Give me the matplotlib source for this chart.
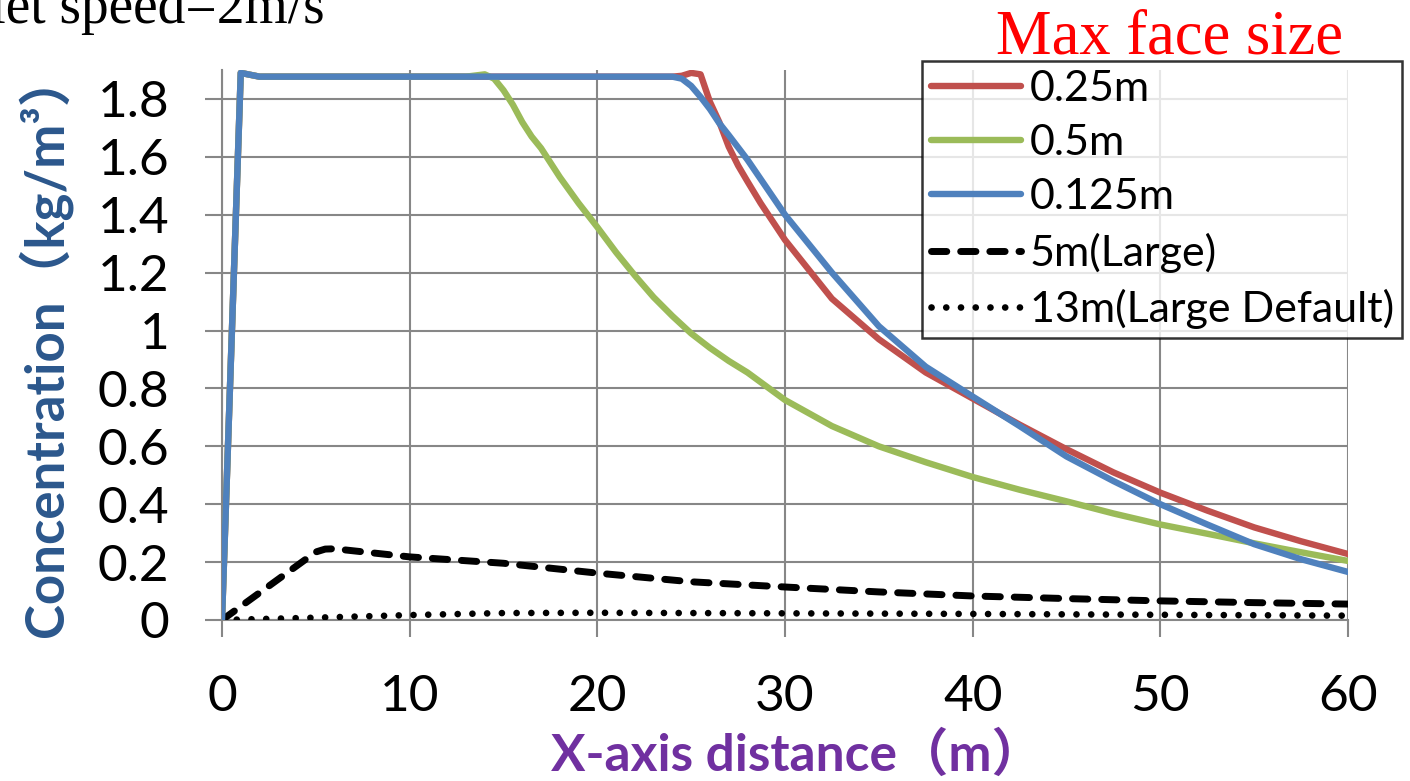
import matplotlib
matplotlib.use("Agg")
import matplotlib.pyplot as plt
import numpy as np

# 0.25m
x_red = [0, 1, 2, 10, 20, 24, 24.5, 25, 25.5, 26, 26.5, 27, 27.5, 28, 28.7, 30, 32.5, 35, 37.5,
         40, 42.5, 45, 47.5, 50, 52.5, 55, 57.5, 60]
y_red = [0, 1.89, 1.877, 1.877, 1.877, 1.877, 1.88, 1.89, 1.885, 1.79, 1.72, 1.635, 1.57, 1.515,
         1.44, 1.313, 1.11, 0.97, 0.855, 0.765, 0.675, 0.59, 0.51, 0.44, 0.378, 0.32, 0.272, 0.228]

# 0.5m
x_green = [0, 1, 2, 10, 13, 14, 14.5, 15, 15.5, 16, 16.5, 17, 18, 19, 20, 21, 22, 23, 24, 25, 26, 27,
           28, 30, 32.5, 35, 37.5, 40, 42.5, 45, 47.5, 50, 52.5, 55, 57.5, 60]
y_green = [0, 1.89, 1.877, 1.877, 1.877, 1.885, 1.87, 1.83, 1.78, 1.72, 1.67, 1.63, 1.53, 1.44, 1.357,
           1.27, 1.19, 1.115, 1.05, 0.99, 0.94, 0.895, 0.855, 0.76, 0.67, 0.60, 0.545, 0.494, 0.45,
           0.41, 0.368, 0.33, 0.298, 0.265, 0.234, 0.204]

# 0.125m
x_blue = [0, 1, 2, 10, 20, 24, 24.5, 25, 25.5, 26, 26.5, 27, 28, 30, 32.5, 35, 37.5, 40, 42.5, 45,
          47.5, 50, 52.5, 55, 57.5, 60]
y_blue = [0, 1.89, 1.877, 1.877, 1.877, 1.877, 1.87, 1.845, 1.807, 1.765, 1.716, 1.675, 1.59, 1.40,
          1.20, 1.015, 0.875, 0.772, 0.67, 0.565, 0.48, 0.40, 0.33, 0.262, 0.21, 0.166]

# 5m(Large)
x_large = [0, 5, 5.5, 6, 10, 15, 20, 25, 30, 35, 40, 45, 50, 55, 60]
y_large = [0, 0.235, 0.245, 0.246, 0.218, 0.196, 0.162, 0.132, 0.114, 0.097, 0.083, 0.074, 0.066,
           0.06, 0.055]

# 13m(Large Default)
x_default = [0, 5, 10, 15, 20, 30, 40, 50, 60]
y_default = [0, 0.008, 0.017, 0.024, 0.025, 0.023, 0.021, 0.018, 0.015]

labels = ["0.25m", "0.5m", "0.125m", "5m(Large)", "13m(Large Default)"]

sans = ["Lato", "Noto Sans CJK SC", "DejaVu Sans"]
serif = ["Liberation Serif", "DejaVu Serif"]
plt.rcParams["font.family"] = sans

fig = plt.figure(figsize=(14.1, 7.81), dpi=100)
ax = fig.add_axes([222 / 1410, 1 - 620 / 781, 1126 / 1410, 550 / 781])

ax.plot(x_red, y_red, color="#C0504D", lw=4.6, solid_capstyle="round", label=labels[0], zorder=3)
ax.plot(x_green, y_green, color="#9BBB59", lw=4.6, solid_capstyle="round", label=labels[1], zorder=3)
ax.plot(x_blue, y_blue, color="#4F81BD", lw=4.6, solid_capstyle="round", label=labels[2], zorder=4)
ax.plot(x_large, y_large, color="black", lw=5, linestyle=(0, (2.2, 2.0)),
        dash_capstyle="round", label=labels[3], zorder=3)
ax.plot(x_default, y_default, color="black", lw=4.8, linestyle=(0, (0.01, 2.2)),
        dash_capstyle="round", label=labels[4], zorder=3)

ax.set_xlim(0, 60)
ax.set_ylim(0, 1.9)
ax.set_xticks(np.arange(0, 61, 10))
ax.set_yticks(np.arange(0, 1.81, 0.2))
ax.set_yticklabels(["0", "0.2", "0.4", "0.6", "0.8", "1", "1.2", "1.4", "1.6", "1.8"])

ax.grid(True, color="#878787", lw=1.5)
ax.set_axisbelow(True)
for s in ["top", "right"]:
    ax.spines[s].set_visible(False)
for s in ["left", "bottom"]:
    ax.spines[s].set_color("#878787")
    ax.spines[s].set_linewidth(1.5)
ax.tick_params(axis="both", direction="out", length=12, width=1.5, color="#878787",
               labelsize=37, labelcolor="black")
ax.tick_params(axis="y", pad=26)
ax.tick_params(axis="x", pad=27)

fig.text(797 / 1410, 1 - 755 / 781, "X-axis distance（m）", color="#7030A0",
         fontsize=37, fontweight="bold", ha="center", va="center")
fig.text(45 / 1410, 1 - 344 / 781, "Concentration（kg/m³）", color="#2B578C",
         fontsize=38, fontweight="bold", ha="center", va="center", rotation=90)

fig.text(1169 / 1410, 1 - 53 / 781, "Max face size", color="red", fontsize=45,
         family=serif, ha="center", va="baseline")
fig.text(325 / 1410, 1 - 23 / 781, "Inlet speed=2m/s", color="black", fontsize=40,
         family=serif, ha="right", va="baseline")

leg = ax.legend(loc="upper left", bbox_to_anchor=(922 / 1410, 1 - 61 / 781),
                bbox_transform=fig.transFigure, fontsize=31, frameon=True, fancybox=False,
                handlelength=2.1, handletextpad=0.2, labelspacing=0.38, borderpad=0.2,
                borderaxespad=0)
leg.get_frame().set_edgecolor("black")
leg.get_frame().set_linewidth(1.8)
leg.set_zorder(10)

fig.savefig("out.png", dpi=100)
